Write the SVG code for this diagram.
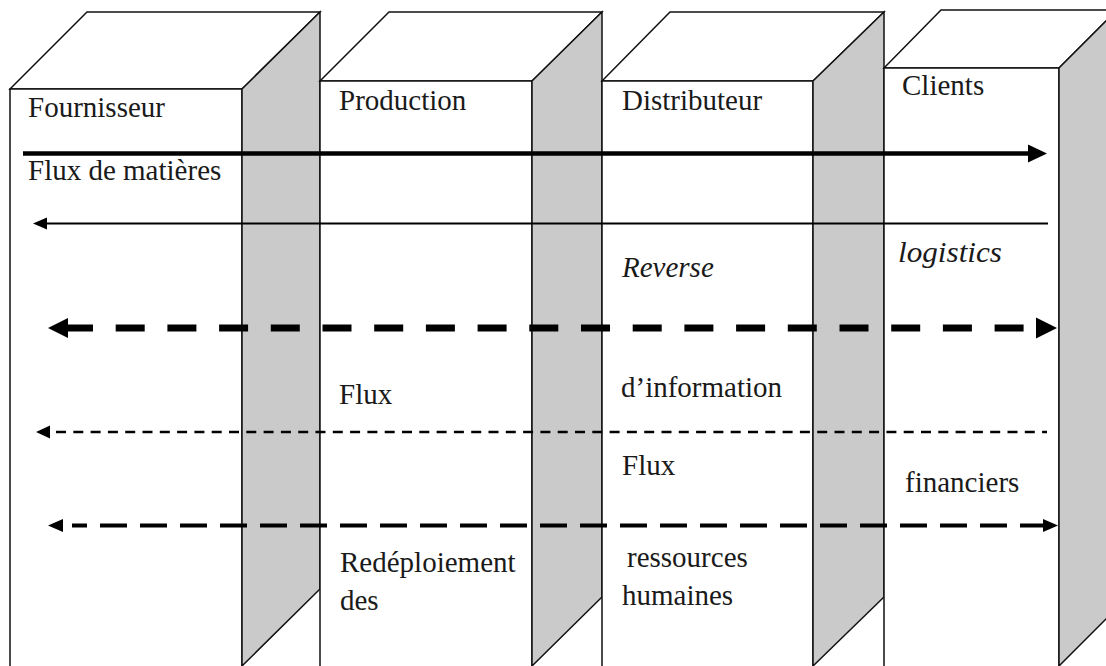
<svg xmlns="http://www.w3.org/2000/svg" width="1106" height="666" viewBox="0 0 1106 666">
<style>
.face{fill:#ffffff;stroke:#111;stroke-width:1.5;stroke-linejoin:miter}
.side{fill:#cacaca;stroke:#111;stroke-width:1.5}
.t{font-family:"Liberation Serif","Times New Roman",serif;font-size:29px;fill:#1a1a1a}
.i{font-style:italic}
.ln{fill:none;stroke:#000}
</style>
<rect width="1106" height="666" fill="#ffffff"/>
<g id="fournisseur">
<polygon class="face" points="10,89 87,12 320,12 242,89"/>
<polygon class="face" points="10,89 242,89 242,672 10,672"/>
<polygon class="side" points="242,89 320,12 320,589 242,666"/>
<text class="t" x="28" y="117">Fournisseur</text>
</g>
<g id="production">
<polygon class="face" points="320,81 389,12 602,12 532,81"/>
<polygon class="face" points="320,81 532,81 532,672 320,672"/>
<polygon class="side" points="532,81 602,12 602,597 532,666"/>
<text class="t" x="339" y="110">Production</text>
</g>
<g id="distributeur">
<polygon class="face" points="602,81 670,12 884,12 813,81"/>
<polygon class="face" points="602,81 813,81 813,672 602,672"/>
<polygon class="side" points="813,81 884,12 884,597 813,666"/>
<text class="t" x="622" y="110">Distributeur</text>
</g>
<g id="clients">
<polygon class="face" points="884,68 941,10 1117,10 1059,68"/>
<polygon class="face" points="884,68 1059,68 1059,672 884,672"/>
<polygon class="side" points="1059,68 1117,10 1117,608 1059,666"/>
<text class="t" x="902" y="95">Clients</text>
</g>
<g id="connectors">
<line class="ln" x1="23" y1="153.5" x2="1032" y2="153.5" stroke-width="4.5"/>
<polygon points="1047,153.5 1028,144.5 1028,162.5" fill="#000"/>
<line class="ln" x1="44" y1="223.5" x2="1048" y2="223.5" stroke-width="2"/>
<polygon points="33,223.5 47,217.5 47,229.5" fill="#000"/>
<line class="ln" x1="64" y1="328" x2="1024" y2="328" stroke-width="7" stroke-dasharray="29 22.7"/>
<polygon points="48,328 68,318 68,338" fill="#000"/>
<polygon points="1057,328 1036,317.5 1036,338.5" fill="#000"/>
<line class="ln" x1="56" y1="432" x2="1047" y2="432" stroke-width="2.5" stroke-dasharray="10 7.3"/>
<polygon points="36,432 50,425.5 50,438.5" fill="#000"/>
<line class="ln" x1="72" y1="525.5" x2="1044" y2="525.5" stroke-width="4" stroke-dasharray="27 13" stroke-dashoffset="12"/>
<polygon points="48,525.5 63,519 63,532" fill="#000"/>
<polygon points="1058,525.5 1043,519 1043,532" fill="#000"/>
</g>
<g id="labels">
<text class="t" x="28" y="180">Flux de matières</text>
<text class="t i" x="622" y="277">Reverse</text>
<text class="t i" x="898" y="262" textLength="104" lengthAdjust="spacingAndGlyphs">logistics</text>
<text class="t" x="339" y="404">Flux</text>
<text class="t" x="621" y="397">d’information</text>
<text class="t" x="622" y="475">Flux</text>
<text class="t" x="905" y="492">financiers</text>
<text class="t" x="340" y="572">Redéploiement</text>
<text class="t" x="340" y="610">des</text>
<text class="t" x="627" y="567">ressources</text>
<text class="t" x="622" y="605">humaines</text>
</g>
</svg>
